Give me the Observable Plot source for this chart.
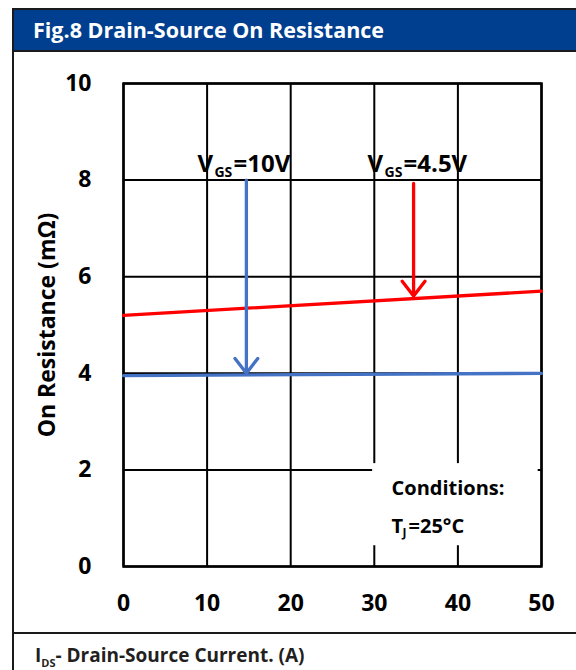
<!DOCTYPE html>
<html>
<head>
<meta charset="utf-8">
<script src="https://cdn.jsdelivr.net/npm/d3@7"></script>
<script src="https://cdn.jsdelivr.net/npm/@observablehq/plot@0.6"></script>
<style>
  html, body { margin: 0; padding: 0; background: #fff; }
  #wrap { position: relative; width: 576px; height: 670px; overflow: hidden; font-family: "Open Sans", sans-serif; }
  #chart { position: absolute; left: 0; top: 0; }
  #titlebar { position: absolute; left: 12px; top: 8px; width: 570px; height: 40px; background: #003F8F;
    border: 2px solid #1a1a1a; color: #fff; font-weight: bold; font-size: 21.5px; line-height: 40px; padding-left: 19px; box-sizing: content-box; }
  #leftborder { position: absolute; left: 12px; top: 48px; width: 2px; height: 630px; background: #1a1a1a; }
  #divider { position: absolute; left: 12px; top: 632px; width: 570px; height: 2px; background: #1a1a1a; }
  #xlabel { position: absolute; left: 35px; top: 642px; font-weight: bold; font-size: 19px; color: #231f20; white-space: nowrap; }
  #xlabel sub { font-size: 11px; vertical-align: -5px; }
</style>
</head>
<body>
<div id="wrap">
  <div id="chart"></div>
  <div id="titlebar">Fig.8 Drain-Source On Resistance</div>
  <div id="leftborder"></div>
  <div id="divider"></div>
  <div id="xlabel">I<sub>DS</sub>- Drain-Source Current. (A)</div>
</div>
<script>
// ---- data ----
const xTicks = [0, 10, 20, 30, 40, 50];
const yTicks = [0, 2, 4, 6, 8, 10];
const current = [0, 50];               // I_DS (A)
const rdsVgs10 = [3.95, 4.0];          // mΩ at VGS=10V
const rdsVgs45 = [5.2, 5.7];           // mΩ at VGS=4.5V
const seriesNames = ["VGS=10V", "VGS=4.5V"];
const seriesColors = ["#4472C4", "#FF0000"];
// annotation arrows (data units)
const arrowX = [14.7, 34.7];
const arrowYStart = [8.0, 7.93];
const arrowYEnd = [4.0, 5.6];
// annotation labels
const labelX = [8.85, 29.2];
const labelY = [8.16, 8.16];
const labelMain = ["V", "V"];
const labelSub = ["GS", "GS"];
const labelRest = ["=10V", "=4.5V"];
// conditions box
const condBoxX = [29.8, 49.6];
const condBoxY = [0.43, 2.13];
const condTextX = [32.06, 32.06];
const condTextY = [1.47, 0.70];

const lineData = [];
current.forEach((c, i) => {
  lineData.push({x: c, y: rdsVgs10[i], s: seriesNames[0]});
  lineData.push({x: c, y: rdsVgs45[i], s: seriesNames[1]});
});
const arrows = arrowX.map((x, i) => ({x, y1: arrowYStart[i], y2: arrowYEnd[i], c: seriesColors[i]}));
const labels = labelX.map((x, i) => ({x, y: labelY[i], main: labelMain[i], sub: labelSub[i], rest: labelRest[i]}));

const txt = {fill: "#000", fontWeight: "bold", textAnchor: "start", lineAnchor: "bottom"};

const plot = Plot.plot({
  width: 576,
  height: 670,
  marginLeft: 123,
  marginRight: 35,
  marginTop: 83,
  marginBottom: 104,
  style: {fontFamily: "'Open Sans', sans-serif", fontSize: "23px", fontWeight: "bold", color: "#000", background: "transparent", overflow: "visible"},
  x: {domain: [0, 50]},
  y: {domain: [0, 10]},
  color: {domain: seriesNames, range: seriesColors},
  marks: [
    // labels under grid
    Plot.text(labels, {...txt, x: "x", y: "y", text: "main", fontSize: 24}),
    Plot.text(labels, {...txt, x: "x", y: "y", text: "sub", fontSize: 14, dx: 17, dy: 5}),
    Plot.text(labels, {...txt, x: "x", y: "y", text: "rest", fontSize: 24, dx: 36}),
    Plot.gridX(xTicks, {stroke: "#000", strokeOpacity: 1, strokeWidth: 2}),
    Plot.gridY(yTicks, {stroke: "#000", strokeOpacity: 1, strokeWidth: 2}),
    Plot.frame({stroke: "#000", strokeWidth: 2.5}),
    Plot.rect([0], {x1: () => condBoxX[0], x2: () => condBoxX[1], y1: () => condBoxY[0], y2: () => condBoxY[1], fill: "#fff"}),
    Plot.text(["Conditions:"], {x: () => condTextX[0], y: () => condTextY[0], text: d => d, ...txt, fontSize: 20}),
    Plot.text(["T"], {x: () => condTextX[1], y: () => condTextY[1], text: d => d, ...txt, fontSize: 20}),
    Plot.text(["J"], {x: () => condTextX[1], y: () => condTextY[1], text: d => d, ...txt, fontSize: 12, dx: 11, dy: 4}),
    Plot.text(["=25°C"], {x: () => condTextX[1], y: () => condTextY[1], text: d => d, ...txt, fontSize: 20, dx: 17}),
    Plot.line(lineData, {x: "x", y: "y", z: "s", stroke: "s", strokeWidth: 3.3}),
    Plot.arrow(arrows, {x: "x", y1: "y1", y2: "y2", stroke: "c", strokeWidth: 3.3, headLength: 8.5, headAngle: 75, insetEnd: 0}),
    Plot.axisX(xTicks, {tickSize: 0, tickPadding: 28, fontSize: 23, fontWeight: "bold", label: null}),
    Plot.axisY(yTicks, {tickSize: 0, tickPadding: 32, fontSize: 23, fontWeight: "bold", label: "On Resistance (mΩ)", labelAnchor: "center", labelArrow: "none", labelOffset: 85})
  ]
});
document.getElementById("chart").appendChild(plot);
</script>
</body>
</html>
